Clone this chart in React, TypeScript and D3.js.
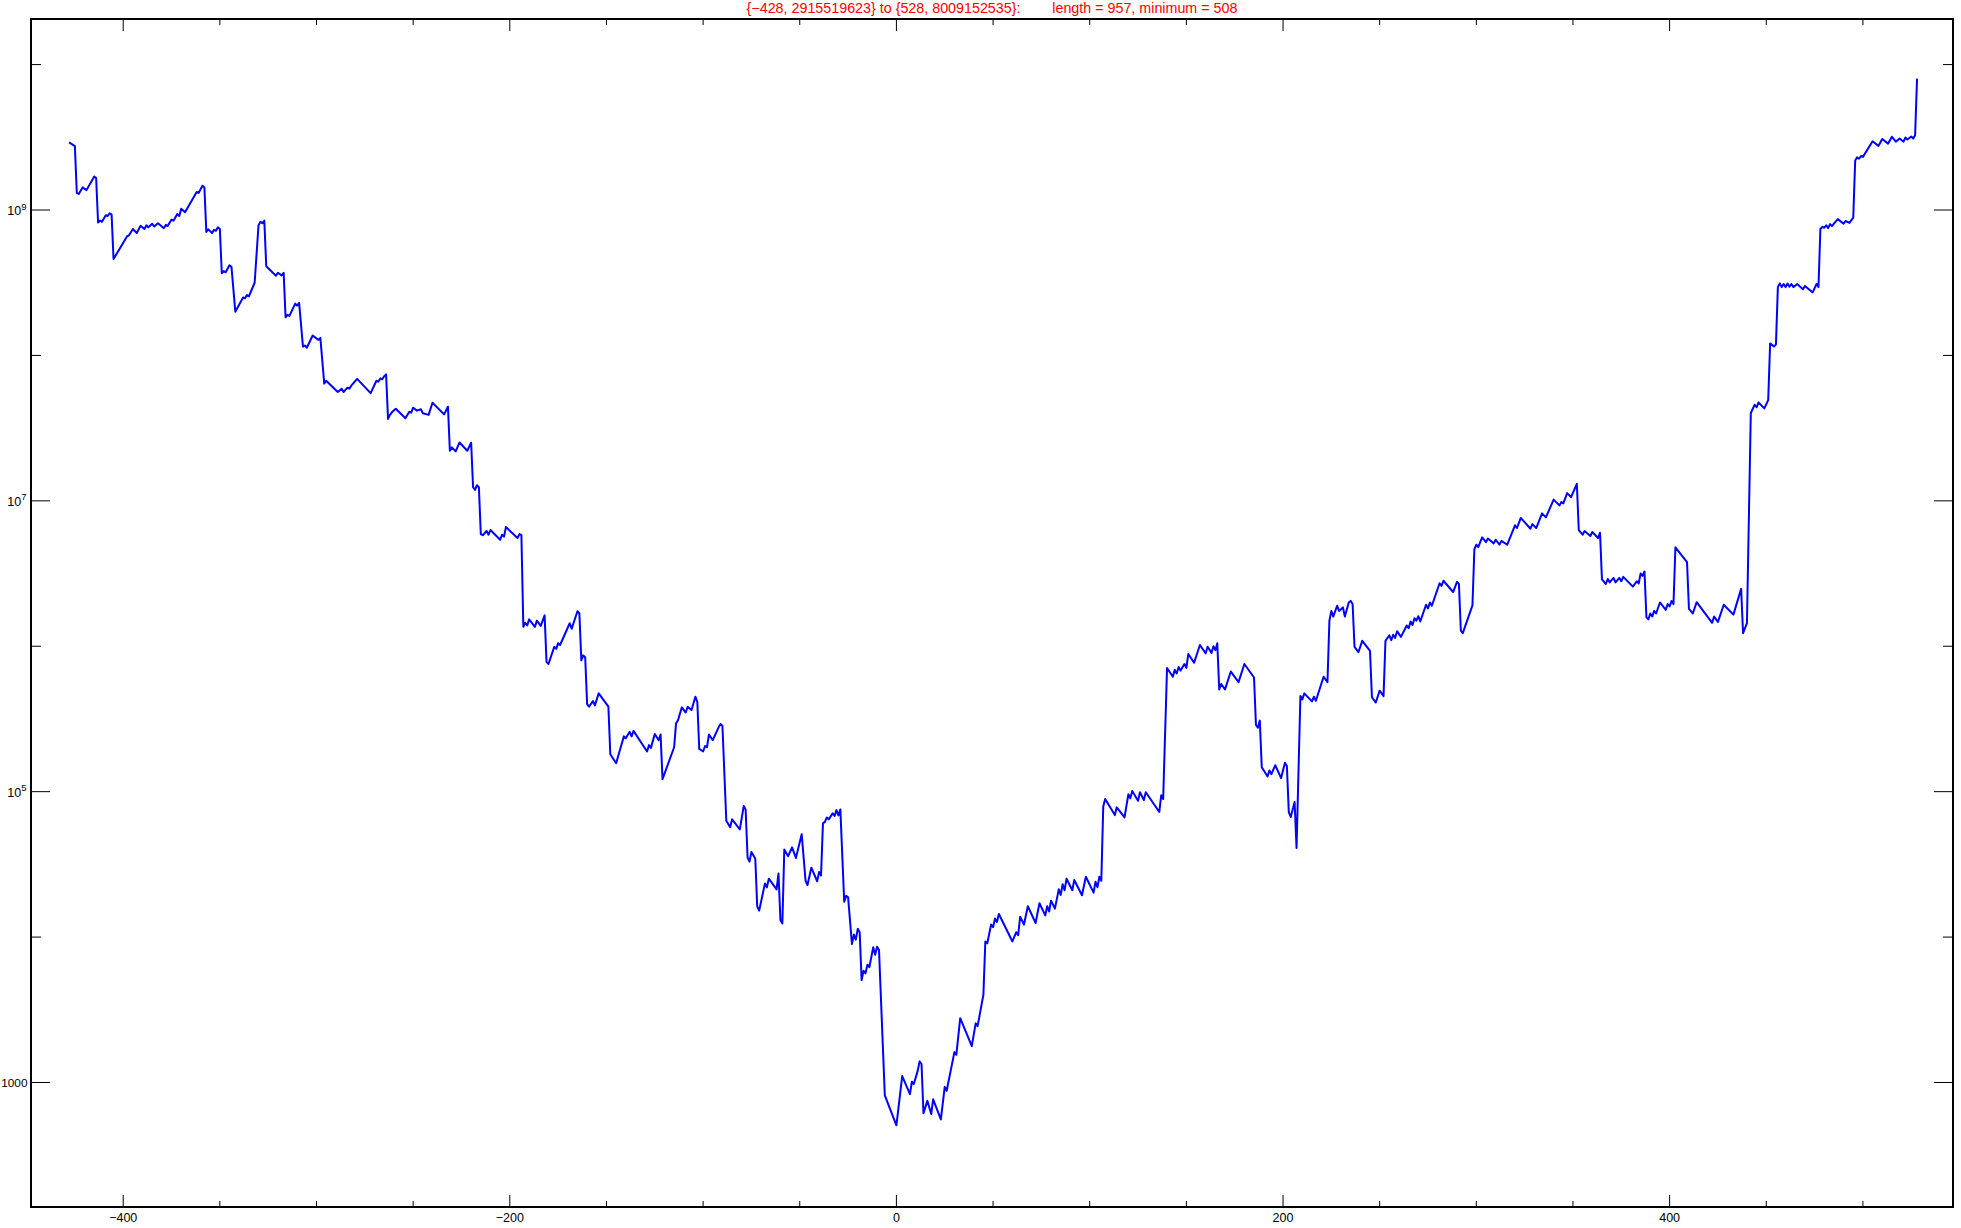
import React from "react";
import * as d3 from "d3";

const xs = [
  -428, -425, -424, -423, -421, -419, -415, -414, -413, -412, -411, -409, -408, -407, -406, -405,
  -398, -397, -395, -393, -391, -389, -388, -387, -385, -384, -382, -379, -378, -377, -375, -374,
  -372, -371, -370, -368, -362, -361, -359, -358, -357, -356, -354, -353, -352, -351, -350, -349,
  -348, -347, -345, -344, -342, -338, -337, -336, -335, -332, -330, -329, -328, -327, -326, -321,
  -320, -318, -317, -316, -315, -314, -311, -310, -309, -307, -306, -305, -302, -299, -298, -296,
  -295, -289, -287, -286, -284, -283, -282, -279, -272, -269, -268, -267, -266, -265, -264, -263,
  -262, -261, -259, -254, -252, -251, -250, -248, -246, -245, -242, -240, -234, -232, -231, -230,
  -228, -226, -222, -220, -219, -218, -217, -216, -215, -214, -212, -211, -210, -205, -204, -203,
  -202, -196, -195, -194, -193, -192, -191, -190, -187, -186, -184, -182, -181, -180, -177, -176,
  -175, -174, -169, -168, -165, -164, -163, -162, -161, -160, -159, -157, -156, -154, -149, -148,
  -145, -141, -140, -138, -137, -136, -129, -128, -127, -125, -123, -122, -121, -115, -114, -113,
  -111, -109, -108, -106, -104, -103, -102, -100, -99, -98, -97, -95, -92, -91, -90, -88,
  -86, -85, -81, -79, -78, -77, -76, -75, -73, -72, -71, -68, -67, -66, -62, -61,
  -60, -59, -58, -56, -54, -52, -49, -47, -46, -44, -41, -40, -39, -38, -37, -36,
  -35, -33, -32, -31, -30, -29, -27, -26, -25, -23, -22, -21, -20, -19, -18, -17,
  -16, -15, -14, -12, -11, -10, -9, -6, 0, 3, 7, 8, 9, 11, 12, 13,
  14, 16, 18, 19, 23, 25, 26, 30, 31, 33, 39, 41, 42, 45, 46, 47,
  49, 50, 51, 52, 53, 60, 62, 63, 64, 66, 68, 72, 74, 77, 78, 79,
  80, 82, 84, 85, 86, 87, 88, 91, 92, 96, 98, 102, 103, 104, 105, 106,
  107, 108, 113, 114, 118, 120, 121, 122, 125, 126, 128, 129, 136, 137, 138, 140,
  143, 144, 145, 146, 147, 149, 150, 151, 154, 157, 160, 161, 163, 164, 165, 166,
  167, 168, 170, 173, 177, 180, 185, 186, 187, 188, 189, 192, 193, 194, 196, 199,
  201, 202, 203, 204, 206, 207, 209, 210, 211, 215, 216, 217, 221, 223, 224, 225,
  226, 228, 229, 231, 232, 234, 235, 236, 237, 239, 241, 245, 246, 248, 250, 252,
  253, 255, 256, 257, 258, 259, 261, 264, 265, 266, 267, 268, 269, 270, 271, 274,
  275, 276, 277, 281, 282, 283, 288, 290, 291, 292, 293, 298, 299, 300, 301, 303,
  305, 306, 309, 310, 312, 313, 316, 320, 321, 323, 328, 329, 331, 334, 336, 340,
  343, 344, 345, 347, 349, 352, 353, 355, 356, 359, 360, 363, 364, 365, 367, 368,
  369, 371, 372, 374, 375, 376, 381, 383, 384, 385, 386, 387, 388, 389, 390, 391,
  392, 393, 395, 398, 399, 400, 401, 402, 403, 409, 410, 412, 414, 422, 423, 425,
  428, 433, 437, 438, 440, 442, 444, 445, 446, 449, 451, 452, 454, 455, 456, 457,
  458, 459, 460, 461, 462, 463, 464, 466, 469, 470, 474, 476, 477, 478, 479, 480,
  481, 482, 483, 484, 485, 487, 490, 491, 493, 495, 496, 497, 498, 499, 500, 505,
  508, 510, 513, 515, 517, 519, 521, 522, 523, 525, 526, 527, 528,
];

const ys = [
  2.9155e9, 2.75e9, 1.31e9, 1.29e9, 1.43e9, 1.37e9, 1.7e9, 1.66e9, 8.2e8, 8.45e8, 8.3e8, 9.2e8, 9.1e8, 9.5e8, 9.3e8, 4.6e8,
  6.6e8, 6.7e8, 7.4e8, 6.95e8, 7.8e8, 7.4e8, 7.85e8, 7.6e8, 8.05e8, 7.7e8, 8.1e8, 7.5e8, 7.9e8, 7.76e8, 8.6e8, 8.45e8,
  9.4e8, 9.1e8, 1.02e9, 9.65e8, 1.33e9, 1.31e9, 1.47e9, 1.43e9, 7.07e8, 7.36e8, 6.95e8, 7.3e8, 7.2e8, 7.6e8, 7.4e8, 3.67e8,
  3.8e8, 3.73e8, 4.17e8, 4.07e8, 2.0e8, 2.5e8, 2.47e8, 2.6e8, 2.55e8, 3.16e8, 7.85e8, 8.3e8, 8.1e8, 8.45e8, 4.1e8, 3.53e8,
  3.7e8, 3.55e8, 3.7e8, 1.83e8, 1.9e8, 1.87e8, 2.27e8, 2.2e8, 2.3e8, 1.15e8, 1.17e8, 1.13e8, 1.37e8, 1.28e8, 1.32e8, 6.4e7,
  6.7e7, 5.6e7, 5.9e7, 5.6e7, 6.0e7, 5.9e7, 6.2e7, 6.9e7, 5.5e7, 6.7e7, 6.6e7, 6.95e7, 6.85e7, 7.2e7, 7.4e7, 3.66e7,
  3.9e7, 4.06e7, 4.3e7, 3.7e7, 4.1e7, 4.04e7, 4.37e7, 4.17e7, 4.27e7, 4.0e7, 3.9e7, 4.73e7, 3.93e7, 4.44e7, 2.21e7, 2.33e7,
  2.19e7, 2.52e7, 2.21e7, 2.51e7, 1.24e7, 1.19e7, 1.28e7, 1.24e7, 5.9e6, 5.8e6, 6.2e6, 5.85e6, 6.3e6, 5.4e6, 5.85e6, 5.67e6,
  6.6e6, 5.55e6, 5.9e6, 5.8e6, 1.36e6, 1.45e6, 1.39e6, 1.53e6, 1.36e6, 1.5e6, 1.38e6, 1.63e6, 7.8e5, 7.55e5, 9.9e5, 9.6e5,
  1.05e6, 1.02e6, 1.44e6, 1.32e6, 1.74e6, 1.68e6, 8.0e5, 8.65e5, 8.4e5, 4.0e5, 3.84e5, 4.2e5, 3.92e5, 4.74e5, 3.84e5, 1.81e5,
  1.57e5, 2.4e5, 2.33e5, 2.58e5, 2.4e5, 2.62e5, 1.89e5, 2.09e5, 2.0e5, 2.49e5, 2.26e5, 2.47e5, 1.22e5, 2.02e5, 2.95e5, 3.1e5,
  3.8e5, 3.5e5, 3.84e5, 3.64e5, 4.5e5, 4.15e5, 1.97e5, 1.89e5, 2.06e5, 2.02e5, 2.47e5, 2.26e5, 2.77e5, 2.92e5, 2.83e5, 6.3e4,
  5.7e4, 6.45e4, 5.5e4, 7.96e4, 7.55e4, 3.53e4, 3.3e4, 3.85e4, 3.46e4, 1.62e4, 1.52e4, 2.34e4, 2.2e4, 2.52e4, 2.13e4, 2.74e4,
  1.31e4, 1.24e4, 4.0e4, 3.6e4, 4.14e4, 3.5e4, 5.1e4, 2.44e4, 2.28e4, 3.0e4, 2.42e4, 2.8e4, 2.65e4, 6.05e4, 6.2e4, 6.65e4,
  6.45e4, 7.1e4, 6.8e4, 7.47e4, 6.87e4, 7.55e4, 1.75e4, 1.92e4, 1.88e4, 8.95e3, 1.04e4, 9.6e3, 1.14e4, 1.08e4, 5.06e3, 5.86e3,
  5.63e3, 6.46e3, 6.2e3, 8.5e3, 7.55e3, 8.57e3, 8.14e3, 815, 508, 1107, 832, 1012, 975, 1202, 1397, 1340,
  614, 748, 607, 766, 557, 933, 877, 1618, 1550, 2770, 1780, 2550, 2440, 4010, 9330, 9050,
  1.22e4, 1.17e4, 1.34e4, 1.27e4, 1.44e4, 9330, 1.08e4, 1.03e4, 1.38e4, 1.22e4, 1.63e4, 1.25e4, 1.71e4, 1.41e4, 1.63e4, 1.5e4,
  1.78e4, 1.57e4, 2.13e4, 1.95e4, 2.31e4, 2.1e4, 2.52e4, 2.1e4, 2.47e4, 1.94e4, 2.6e4, 2.02e4, 2.4e4, 2.2e4, 2.6e4, 2.44e4,
  7.9e4, 8.9e4, 6.9e4, 7.8e4, 6.65e4, 9.6e4, 9.0e4, 1.01e5, 8.65e4, 9.9e4, 8.75e4, 9.9e4, 7.25e4, 9.45e4, 8.9e4, 7.08e5,
  6.17e5, 6.9e5, 6.5e5, 7.2e5, 6.8e5, 7.55e5, 7.1e5, 8.84e5, 7.7e5, 1.02e6, 8.94e5, 9.93e5, 9.0e5, 1.0e6, 9.4e5, 1.05e6,
  5.05e5, 5.5e5, 5.05e5, 6.7e5, 5.67e5, 7.55e5, 6.1e5, 2.88e5, 2.75e5, 3.08e5, 1.47e5, 1.27e5, 1.4e5, 1.32e5, 1.52e5, 1.24e5,
  1.58e5, 1.5e5, 7.2e4, 6.7e4, 8.5e4, 4.1e4, 4.55e5, 4.3e5, 4.74e5, 4.18e5, 4.5e5, 4.22e5, 6.17e5, 5.67e5, 1.5e6, 1.75e6,
  1.6e6, 1.9e6, 1.75e6, 1.85e6, 1.6e6, 2.0e6, 2.05e6, 1.95e6, 9.9e5, 9.1e5, 1.09e6, 9.3e5, 4.46e5, 4.1e5, 4.95e5, 4.54e5,
  1.09e6, 1.19e6, 1.1e6, 1.2e6, 1.14e6, 1.27e6, 1.16e6, 1.39e6, 1.33e6, 1.48e6, 1.4e6, 1.56e6, 1.5e6, 1.61e6, 1.48e6, 1.93e6,
  1.82e6, 2.0e6, 1.9e6, 2.71e6, 2.6e6, 2.82e6, 2.36e6, 2.77e6, 2.68e6, 1.28e6, 1.23e6, 1.91e6, 4.64e6, 4.99e6, 4.8e6, 5.61e6,
  5.2e6, 5.5e6, 5.1e6, 5.4e6, 5.0e6, 5.3e6, 4.99e6, 6.79e6, 6.5e6, 7.63e6, 6.43e6, 6.92e6, 6.5e6, 8.2e6, 7.7e6, 1.02e7,
  9.3e6, 9.8e6, 9.6e6, 1.13e7, 1.06e7, 1.31e7, 6.3e6, 5.85e6, 6.2e6, 5.73e6, 6.1e6, 5.55e6, 6.04e6, 2.88e6, 2.68e6, 2.9e6,
  2.75e6, 2.95e6, 2.75e6, 2.95e6, 2.8e6, 3.0e6, 2.57e6, 2.8e6, 2.7e6, 3.17e6, 3.05e6, 3.27e6, 1.58e6, 1.53e6, 1.68e6, 1.6e6,
  1.75e6, 1.68e6, 2.0e6, 1.78e6, 1.95e6, 1.88e6, 2.05e6, 1.95e6, 4.79e6, 3.79e6, 1.81e6, 1.68e6, 2.01e6, 1.45e6, 1.6e6, 1.47e6,
  1.93e6, 1.65e6, 2.48e6, 1.23e6, 1.44e6, 4.02e7, 4.58e7, 4.4e7, 4.75e7, 4.32e7, 4.93e7, 1.21e8, 1.15e8, 1.19e8, 2.95e8, 3.13e8,
  2.95e8, 3.1e8, 2.95e8, 3.12e8, 2.97e8, 3.1e8, 2.95e8, 3.1e8, 2.85e8, 3.0e8, 2.71e8, 3.1e8, 2.95e8, 7.4e8, 7.66e8, 7.55e8,
  7.85e8, 7.5e8, 8.0e8, 7.75e8, 8.05e8, 8.65e8, 8.05e8, 8.4e8, 8.15e8, 8.87e8, 2.19e9, 2.3e9, 2.25e9, 2.35e9, 2.32e9, 2.97e9,
  2.76e9, 3.08e9, 2.86e9, 3.19e9, 2.95e9, 3.1e9, 2.95e9, 3.15e9, 3.05e9, 3.2e9, 3.1e9, 3.27e9, 8.009152535e9,
];

const title = "{\u2212428, 2915519623} to {528, 8009152535}:        length = 957, minimum = 508";
const xMajorTicks = [-400, -200, 0, 200, 400];
const xMinorTicks = [-350, -300, -250, -150, -100, -50, 50, 100, 150, 250, 300, 350, 450, 500];
const yMajorExponents = [3, 5, 7, 9];
const yMinorExponents = [4, 6, 8, 10];

const W = 1961;
const H = 1228;
const L = 31;
const R = 1953;
const T = 19;
const B = 1207;

export default function App() {
  const x = d3.scaleLinear().domain([-447.7, 546.6]).range([L, R]);
  const y = d3.scaleLog().domain([Math.pow(10, 2.1438), Math.pow(10, 10.3135)]).range([B, T]);
  const pts: [number, number][] = xs.map((v, i) => [v, ys[i]]);
  const line = d3
    .line<[number, number]>()
    .x((d) => x(d[0]))
    .y((d) => y(d[1]));
  const font = "Liberation Sans, Arial, sans-serif";
  return (
    <svg
      width={W}
      height={H}
      style={{ position: "absolute", left: 0, top: 0, background: "#fff" }}
      fontFamily={font}
    >
      <rect x={0} y={0} width={W} height={H} fill="#fff" />
      <text
        x={(L + R) / 2}
        y={13}
        textAnchor="middle"
        fill="#ff0000"
        fontSize={14.3}
        style={{ whiteSpace: "pre" }}
        xmlSpace="preserve"
      >
        {title}
      </text>
      <path d={line(pts) || ""} fill="none" stroke="#0000ff" strokeWidth={2} strokeLinejoin="round" />
      {xMajorTicks.map((t) => (
        <g key={"xM" + t}>
          <line x1={x(t)} x2={x(t)} y1={B} y2={B - 12} stroke="#000" strokeWidth={1} />
          <line x1={x(t)} x2={x(t)} y1={T} y2={T + 12} stroke="#000" strokeWidth={1} />
          <text x={x(t)} y={1222} textAnchor="middle" fontSize={12.5} fill="#000">
            {t < 0 ? "\u2212" + Math.abs(t) : String(t)}
          </text>
        </g>
      ))}
      {xMinorTicks.map((t) => (
        <g key={"xm" + t}>
          <line x1={x(t)} x2={x(t)} y1={B} y2={B - 6} stroke="#000" strokeWidth={1} />
          <line x1={x(t)} x2={x(t)} y1={T} y2={T + 6} stroke="#000" strokeWidth={1} />
        </g>
      ))}
      {yMajorExponents.map((e) => {
        const yy = y(Math.pow(10, e));
        return (
          <g key={"yM" + e}>
            <line x1={L} x2={L + 19} y1={yy} y2={yy} stroke="#000" strokeWidth={1} />
            <line x1={R} x2={R - 19} y1={yy} y2={yy} stroke="#000" strokeWidth={1} />
            {e === 3 ? (
              <text x={27.5} y={yy + 4.5} textAnchor="end" fontSize={11.8} fill="#000">
                1000
              </text>
            ) : (
              <text x={26.5} y={yy + 5} textAnchor="end" fontSize={12.5} fill="#000">
                10
                <tspan dy={-5.5} fontSize={9.5}>
                  {e}
                </tspan>
              </text>
            )}
          </g>
        );
      })}
      {yMinorExponents.map((e) => {
        const yy = y(Math.pow(10, e));
        return (
          <g key={"ym" + e}>
            <line x1={L} x2={L + 10} y1={yy} y2={yy} stroke="#000" strokeWidth={1} />
            <line x1={R} x2={R - 10} y1={yy} y2={yy} stroke="#000" strokeWidth={1} />
          </g>
        );
      })}
      <rect x={L} y={T} width={R - L} height={B - T} fill="none" stroke="#000" strokeWidth={2} />
    </svg>
  );
}
